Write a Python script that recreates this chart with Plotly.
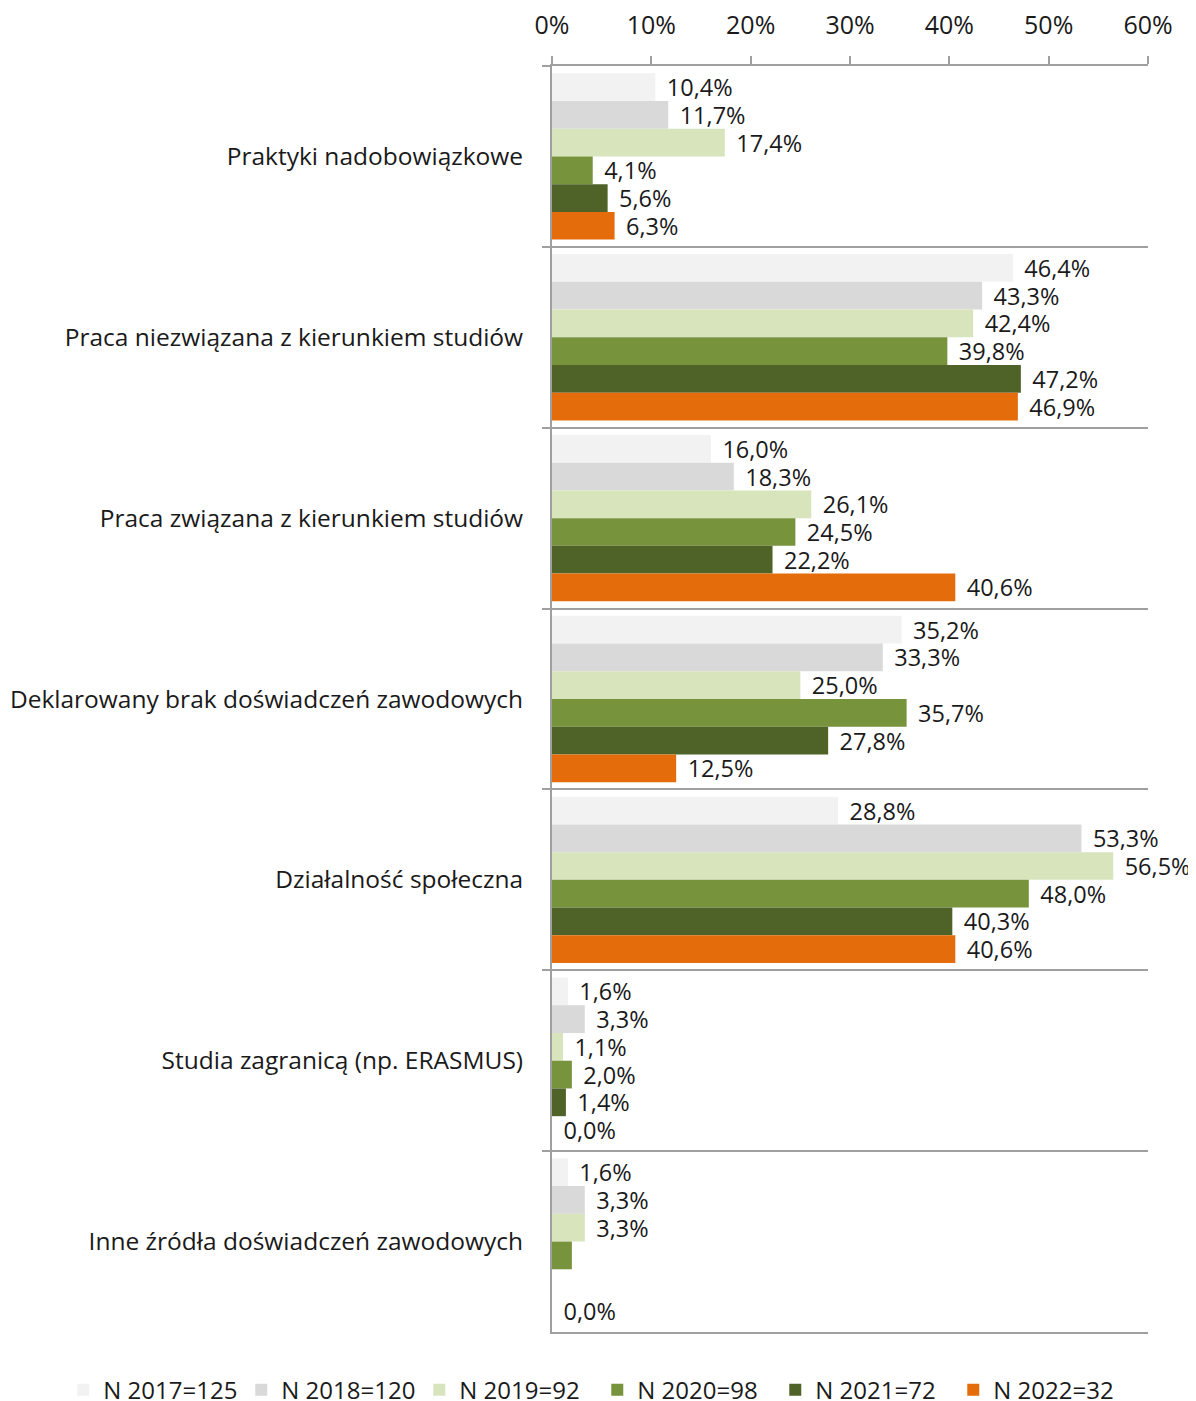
import plotly.graph_objects as go

categories = [
    "Praktyki nadobowiązkowe",
    "Praca niezwiązana z kierunkiem studiów",
    "Praca związana z kierunkiem studiów",
    "Deklarowany brak doświadczeń zawodowych",
    "Działalność społeczna",
    "Studia zagranicą (np. ERASMUS)",
    "Inne źródła doświadczeń zawodowych",
]

series_names = ["N 2017=125", "N 2018=120", "N 2019=92", "N 2020=98", "N 2021=72", "N 2022=32"]

v2017 = [10.4, 46.4, 16.0, 35.2, 28.8, 1.6, 1.6]
v2018 = [11.7, 43.3, 18.3, 33.3, 53.3, 3.3, 3.3]
v2019 = [17.4, 42.4, 26.1, 25.0, 56.5, 1.1, 3.3]
v2020 = [4.1, 39.8, 24.5, 35.7, 48.0, 2.0, 2.0]
v2021 = [5.6, 47.2, 22.2, 27.8, 40.3, 1.4, None]
v2022 = [6.3, 46.9, 40.6, 12.5, 40.6, 0.0, 0.0]

# labels that are not printed in the original (per series, per category)
hidden = {"N 2020=98": [6]}

colors = ["#f2f2f2", "#d9d9d9", "#d8e4bc", "#77933c", "#4f6228", "#e46c0a"]

font = "Open Sans, Noto Sans, sans-serif"


def fmt(v):
    if v is None:
        return ""
    return f"{v:.1f}%".replace(".", ",")


fig = go.Figure()
for name, vals, col in zip(series_names, [v2017, v2018, v2019, v2020, v2021, v2022], colors):
    texts = [fmt(v) for v in vals]
    for i in hidden.get(name, []):
        texts[i] = ""
    fig.add_trace(go.Bar(
        name=name, y=categories, x=vals, orientation="h",
        marker_color=col, marker_line_width=0,
        text=[" \u200a" + t if t else "" for t in texts],
        textposition="outside", cliponaxis=False, constraintext="none",
        textfont=dict(size=23.5, color="#1a1a1a", family=font),
    ))

# page body adds an 8px margin, so the figure is shifted by 8px
fig.update_layout(
    width=1188, height=1393,
    barmode="group", bargap=0.08, bargroupgap=0,
    plot_bgcolor="white", paper_bgcolor="white",
    font=dict(family=font, size=24.5, color="#1a1a1a"),
    margin=dict(l=544, r=48, t=58, b=69, autoexpand=False),
    legend=dict(orientation="h", xref="paper", yref="paper",
                x=-0.82, xanchor="left", y=-0.046, yanchor="middle",
                font=dict(size=24), traceorder="normal", itemwidth=30,
                entrywidth=133, entrywidthmode="pixels"),
)
fig.update_xaxes(
    side="top", range=[0, 60], dtick=10, ticksuffix="%",
    showgrid=False, zeroline=False, automargin=False,
    showline=True, linecolor="#a0a0a0", linewidth=2, mirror=True,
    ticks="outside", ticklen=8, tickwidth=2, tickcolor="#a0a0a0",
    ticklabelstandoff=12, tickfont=dict(size=25),
)
fig.update_yaxes(
    autorange="reversed", tickson="boundaries", automargin=False,
    showgrid=True, gridcolor="#a0a0a0", gridwidth=2,
    showline=True, linecolor="#a0a0a0", linewidth=2,
    ticks="outside", ticklen=8, tickwidth=2, tickcolor="#a0a0a0",
    ticklabelstandoff=22,
)

fig.write_html("out.html")
